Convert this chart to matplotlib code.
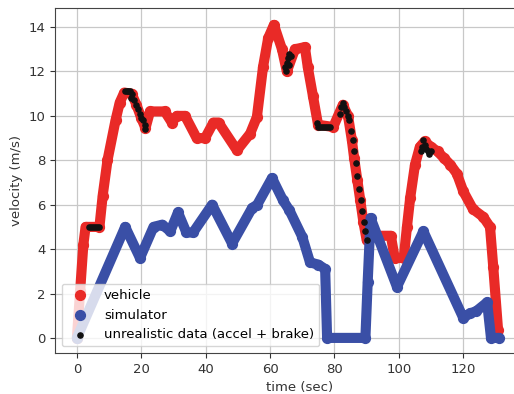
import matplotlib
matplotlib.use("Agg")
import matplotlib.pyplot as plt

# vehicle speed trace (time in sec, velocity in m/s)
veh_t = [0, 1, 2, 2.7, 7, 8, 9.5, 12, 13.3, 14.7, 17, 18.5, 20, 21.3, 22.7, 27.3, 29.5, 31, 33.6,
         37.2, 39.8, 42.4, 44, 49.7, 53.8, 55.9, 57.8, 59.4, 61.2, 63.7, 65.2, 67.7, 70.8, 71.7,
         73.3, 74.9, 79.6, 82.6, 84.2, 85.4, 86.1, 87.1, 88, 89, 90, 91, 97.5, 98.7, 101.5, 102.5,
         103.5, 105, 106.5, 108, 110, 112, 114, 116, 118, 120, 123, 126.2, 128.3, 129.3, 130.8]
veh_v = [0, 2.1, 4.2, 5.0, 5.0, 6.4, 8.0, 9.8, 10.6, 11.05, 11.0, 10.5, 9.9, 9.45, 10.2, 10.2, 9.7, 10.0, 10.0,
         9.0, 9.0, 9.7, 9.7, 8.45, 9.2, 9.95, 12.2, 13.5, 14.1, 13.0, 12.0, 13.0, 13.1, 12.2,
         10.9, 9.6, 9.5, 10.5, 10.0, 8.9, 8.1, 7.1, 6.2, 5.2, 4.4, 4.6, 4.6, 3.6, 3.6, 5.0,
         6.3, 7.8, 8.6, 8.85, 8.6, 8.4, 8.1, 7.8, 7.4, 6.6, 5.8, 5.45, 5.0, 3.2, 0.35]

# simulator speed trace
sim_t = [0, 15, 19.6, 23.8, 26.5, 29, 31.4, 34, 36.1, 42, 48.2, 54.4, 56, 60.6, 64, 66, 70, 72.4,
         75, 77.1, 77.7, 89.6, 90.3, 91.2, 99.4, 107.6, 120, 122, 124, 127.4, 128.6, 131]
sim_v = [0, 5.0, 3.6, 5.0, 5.1, 4.8, 5.65, 4.75, 4.75, 6.0, 4.25, 5.85, 6.0, 7.2, 6.2, 5.75, 4.55, 3.4,
         3.3, 3.1, 0, 0, 2.5, 5.4, 2.3, 4.8, 0.9, 1.1, 1.2, 1.6, 0, 0]

# flagged samples (accel + brake at the same time)
bad_t = [3.8, 4.4, 5.0, 5.6, 6.2, 6.8,
         15.0, 15.5, 16.0, 16.5, 17.0, 16.7, 17.6, 18.5, 19.0, 19.5, 20.0, 20.5, 21.0, 21.3,
         64.6, 65.0, 65.3, 65.6, 66.0, 66.4, 65.8,
         74.5, 75.0, 75.6, 76.2, 76.8, 77.4, 78.0, 78.6,
         81.6, 82.1, 82.6, 83.1, 83.6, 84.1, 84.6, 85.1, 85.6, 86.1, 86.6, 87.1, 87.6, 88.1, 88.6, 89.1, 89.6, 90.0,
         106.8, 107.2, 107.6, 108.0, 108.5, 109.0, 109.5, 110.0]
bad_v = [5.0, 5.0, 5.0, 5.0, 5.0, 5.0,
         11.1, 11.1, 11.1, 11.1, 11.0, 10.8, 10.7, 10.5, 10.3, 10.1, 9.9, 9.8, 9.6, 9.4,
         12.2, 12.0, 12.4, 12.6, 12.8, 12.7, 12.3,
         9.7, 9.5, 9.5, 9.5, 9.5, 9.5, 9.5, 9.5,
         10.1, 10.4, 10.6, 10.4, 10.2, 10.0, 9.8, 9.3, 8.9, 8.4, 7.9, 7.3, 6.7, 6.2, 5.7, 5.2, 4.8, 4.4,
         8.4, 8.6, 8.9, 8.7, 8.5, 8.4, 8.3, 8.4]

red = "#e92a27"
blue = "#3a4fa6"

plt.rcParams["font.family"] = "DejaVu Sans"
plt.rcParams["font.size"] = 9.5

fig = plt.figure(figsize=(5.14, 3.94), dpi=100)
# the original picture is cropped on the right, so the axes run past the edge
ax = fig.add_axes([55 / 514, 41 / 394, 490 / 514, 345 / 394])

ax.plot(veh_t, veh_v, color=red, lw=7.3, solid_capstyle="round", solid_joinstyle="round", zorder=2)
ax.scatter(veh_t, veh_v, s=50, color=red, label="vehicle", zorder=2)
ax.plot(sim_t, sim_v, color=blue, lw=7.3, solid_capstyle="round", solid_joinstyle="round", zorder=3)
ax.scatter(sim_t, sim_v, s=50, color=blue, label="simulator", zorder=3)
ax.scatter(bad_t, bad_v, s=14, color="#111111", label="unrealistic data (accel + brake)", zorder=4)

ax.set_xlim(-6.8, -6.8 + 490 / 3.22)
ax.set_ylim(-0.68, 14.86)
ax.set_xticks([0, 20, 40, 60, 80, 100, 120])
ax.set_yticks([0, 2, 4, 6, 8, 10, 12, 14])
ax.grid(True, color="#c8c8c8", lw=0.9)
ax.set_axisbelow(True)
ax.tick_params(colors="#333333", labelcolor="#333333")
for s in ax.spines.values():
    s.set_color("#444444")

ax.set_xlabel("time (sec)", color="#333333")
ax.set_ylabel("velocity (m/s)", color="#333333")
ax.legend(loc="lower left", framealpha=0.8)

fig.savefig("out.png", dpi=100)
